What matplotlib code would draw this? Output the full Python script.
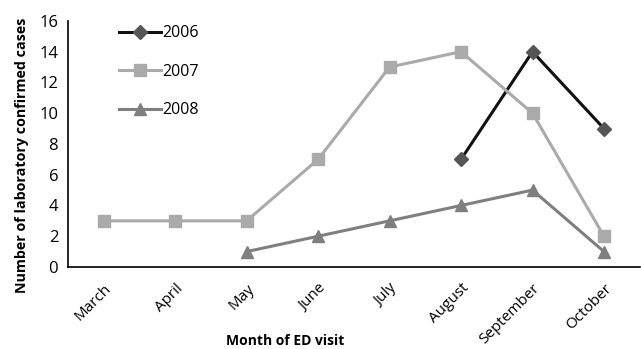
import matplotlib.pyplot as plt
import numpy as np

months = ['March', 'April', 'May', 'June', 'July', 'August', 'September', 'October']
cases_2006 = [np.nan, np.nan, np.nan, np.nan, np.nan, 7, 14, 9]
cases_2007 = [3, 3, 3, 7, 13, 14, 10, 2]
cases_2008 = [np.nan, np.nan, 1, 2, 3, 4, 5, 1]

plt.rcParams['font.family'] = ['Open Sans', 'DejaVu Sans']

fig = plt.figure(figsize=(6.41, 3.49), dpi=100)
ax = fig.add_axes([0.106, 0.235, 0.892, 0.705])

x = np.arange(len(months))
ax.plot(x, cases_2006, color='#111111', lw=2.2, marker='D', ms=7,
        mfc='#555555', mec='#555555', label='2006')
ax.plot(x, cases_2007, color='#aaaaaa', lw=2.2, marker='s', ms=9,
        mfc='#aaaaaa', mec='#aaaaaa', label='2007')
ax.plot(x, cases_2008, color='#7f7f7f', lw=2.2, marker='^', ms=9,
        mfc='#7f7f7f', mec='#7f7f7f', label='2008')

ax.set_xlim(-0.5, 7.5)
ax.set_ylim(0, 16)
ax.set_yticks(range(0, 17, 2))
ax.set_xticks(x)
ax.set_xticklabels(months, rotation=45, ha='right', rotation_mode='anchor')
ax.tick_params(axis='both', length=0)
ax.tick_params(axis='x', pad=10, labelsize=11)
ax.tick_params(axis='y', pad=7, labelsize=12)

for s in ['top', 'right']:
    ax.spines[s].set_visible(False)
ax.spines['left'].set_linewidth(1.2)
ax.spines['bottom'].set_linewidth(1.2)

ax.set_ylabel('Number of laboratory confirmed cases', fontsize=10.3, fontweight='bold')
ax.yaxis.set_label_coords(-0.068, 0.455)
fig.text(0.445, 0.012, 'Month of ED visit', fontsize=10, fontweight='bold', ha='center')

ax.legend(loc='upper left', bbox_to_anchor=(0.065, 1.04), frameon=False, fontsize=11.5,
          handlelength=2.6, labelspacing=1.4, handletextpad=0.1)

fig.savefig('out.png', dpi=100)
